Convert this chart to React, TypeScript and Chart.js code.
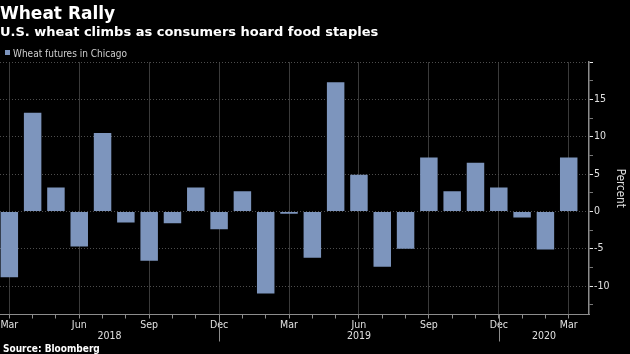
import React, { useEffect, useRef } from "react";
import { Chart, registerables } from "chart.js";

Chart.register(...registerables);

const titleText = "Wheat Rally";
const subtitleText = "U.S. wheat climbs as consumers hoard food staples";
const seriesName = "Wheat futures in Chicago";
const sourceText = "Source: Bloomberg";
const axisTitle = "Percent";

const months = [
  "Mar", "Apr", "May", "Jun", "Jul", "Aug", "Sep", "Oct", "Nov", "Dec", "Jan", "Feb",
  "Mar", "Apr", "May", "Jun", "Jul", "Aug", "Sep", "Oct", "Nov", "Dec", "Jan", "Feb", "Mar",
];
const years = [
  2018, 2018, 2018, 2018, 2018, 2018, 2018, 2018, 2018, 2018,
  2019, 2019, 2019, 2019, 2019, 2019, 2019, 2019, 2019, 2019, 2019, 2019,
  2020, 2020, 2020,
];
const values = [
  -8.8, 13.2, 3.2, -4.7, 10.5, -1.5, -6.6, -1.6, 3.2, -2.4, 2.7, -11.0,
  -0.3, -6.2, 17.3, 4.9, -7.4, -5.0, 7.2, 2.7, 6.5, 3.2, -0.8, -5.1, 7.2,
];
const labeledMonths = ["Mar", "Jun", "Sep", "Dec"];
const yMajor = [-10, -5, 0, 5, 10, 15];

const BAR = "#7d95bd";
const GRID = "#4d4d4d";
const VGRID = "#3a3a3a";
const AXIS = "#8c8c8c";
const TEXT = "#e0e0e0";
const COND = "'DejaVu Sans Condensed', 'DejaVu Sans', sans-serif";
const BOLD = "'DejaVu Sans', sans-serif";

export default function App() {
  const ref = useRef<HTMLCanvasElement | null>(null);

  useEffect(() => {
    document.body.style.margin = "0";
    document.body.style.background = "#000";
    const canvas = ref.current;
    if (!canvas) return;

    const decorations = {
      id: "decorations",
      beforeDraw(chart: any) {
        const c = chart.ctx;
        c.save();
        c.fillStyle = "#000";
        c.fillRect(0, 0, chart.width, chart.height);
        c.restore();
      },
      afterDraw(chart: any) {
        const c = chart.ctx;
        const xs = chart.scales.x;
        const area = chart.chartArea;
        c.save();
        c.fillStyle = "#ffffff";
        c.textBaseline = "alphabetic";
        c.textAlign = "left";
        c.font = `bold 17px ${BOLD}`;
        c.fillText(titleText, 0, 19);
        c.font = `bold 13px ${BOLD}`;
        c.fillText(subtitleText, 0, 36);
        // legend
        c.fillStyle = BAR;
        c.fillRect(5, 50, 5, 5);
        c.fillStyle = "#cfcfcf";
        c.font = `10px ${COND}`;
        c.fillText(seriesName, 13, 56.5);
        // source
        c.fillStyle = "#ffffff";
        c.font = `bold 10px ${COND}`;
        c.fillText(sourceText, 3, 351.5);
        // year separators and labels
        const seps: number[] = [];
        for (let i = 1; i < years.length; i++) {
          if (years[i] !== years[i - 1]) seps.push(xs.getPixelForValue(i - 1));
        }
        c.strokeStyle = AXIS;
        c.lineWidth = 1;
        seps.forEach((px) => {
          c.beginPath();
          c.moveTo(Math.round(px) + 0.5, area.bottom);
          c.lineTo(Math.round(px) + 0.5, 341.5);
          c.stroke();
        });
        const bounds = [xs.left, ...seps, xs.right];
        const uniqYears = years.filter((y, i) => i === 0 || y !== years[i - 1]);
        c.fillStyle = TEXT;
        c.font = `10.5px ${COND}`;
        c.textAlign = "center";
        uniqYears.forEach((y, k) => {
          const cx = (bounds[k] + bounds[k + 1]) / 2;
          c.fillText(String(y), cx, 339);
        });
        c.restore();
      },
    };

    const chart = new Chart(canvas, {
      type: "bar",
      data: {
        datasets: [
          {
            label: seriesName,
            data: values.map((v, i) => ({ x: i, y: v })),
            backgroundColor: BAR,
            borderWidth: 0,
            barPercentage: 0.75,
            categoryPercentage: 1,
          },
        ],
      },
      options: {
        responsive: false,
        animation: false,
        maintainAspectRatio: false,
        layout: { padding: { top: 62, left: 0, right: 0, bottom: 0 } },
        plugins: {
          legend: { display: false },
          title: { display: false },
          tooltip: { enabled: false },
        },
        scales: {
          x: {
            type: "linear",
            offset: false,
            min: -0.4,
            max: 24.87,
            afterBuildTicks: (s: any) => {
              s.ticks = months.map((_, i) => ({ value: i }));
            },
            afterFit: (s: any) => {
              s.height = 39.5;
            },
            ticks: {
              autoSkip: false,
              maxRotation: 0,
              minRotation: 0,
              padding: 0,
              color: TEXT,
              font: { family: COND, size: 10.5 },
              callback: (v: any) => {
                const m = months[v as number];
                return labeledMonths.includes(m) ? m : "";
              },
            },
            grid: {
              offset: false,
              color: (ctx: any) =>
                ctx.tick && labeledMonths.includes(months[ctx.tick.value]) ? VGRID : "transparent",
              tickColor: AXIS,
              tickLength: 4,
              lineWidth: 1,
            },
            border: { display: true, color: AXIS, width: 1 },
          },
          y: {
            type: "linear",
            position: "right",
            min: -13.8,
            max: 20,
            afterBuildTicks: (s: any) => {
              const t: any[] = [];
              for (let v = -12.5; v <= 20; v += 2.5) t.push({ value: v });
              s.ticks = t;
            },
            afterFit: (s: any) => {
              s.width = 41;
            },
            ticks: {
              autoSkip: false,
              padding: 1,
              color: TEXT,
              font: { family: COND, size: 10.5 },
              callback: (v: any) => (yMajor.includes(v as number) ? String(v) : ""),
            },
            grid: {
              color: (ctx: any) =>
                ctx.tick && (ctx.tick.value % 5 === 0) ? GRID : "transparent",
              tickColor: (ctx: any) =>
                ctx.tick && ctx.tick.value % 5 === 0 ? "#e8e8e8" : "#777",
              tickLength: 4,
              lineWidth: 1,
            },
            border: { display: true, color: AXIS, width: 1.5, dash: [1, 2] },
            title: {
              display: true,
              text: axisTitle,
              color: TEXT,
              font: { family: COND, size: 11.5 },
              padding: { top: 3, bottom: 0 },
            },
          },
        },
      },
      plugins: [decorations],
    });

    return () => chart.destroy();
  }, []);

  return <canvas ref={ref} width={630} height={354} style={{ display: "block" }} />;
}
